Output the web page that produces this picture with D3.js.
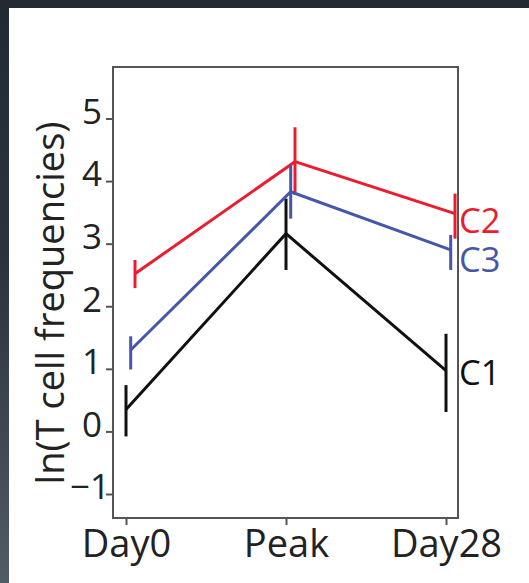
<!DOCTYPE html>
<html>
<head>
<meta charset="utf-8">
<script src="https://cdn.jsdelivr.net/npm/d3@7"></script>
<style>
  html, body { margin: 0; padding: 0; background: #fff; }
  svg { display: block; }
  text { font-family: "Open Sans", "DejaVu Sans", sans-serif; fill: #222; }
</style>
</head>
<body>
<svg id="chart" width="529" height="583"></svg>
<script>
// ---------------- data ----------------
const categories = ["Day0", "Peak", "Day28"];
const seriesNames = ["C1", "C2", "C3"];

const c1Mean  = [0.35, 3.16, 0.97];
const c1Upper = [0.74, 3.72, 1.56];
const c1Lower = [-0.08, 2.58, 0.31];

const c2Mean  = [2.52, 4.31, 3.48];
const c2Upper = [2.74, 4.86, 3.80];
const c2Lower = [2.29, 3.78, 3.08];

const c3Mean  = [1.30, 3.83, 2.90];
const c3Upper = [1.52, 4.26, 3.14];
const c3Lower = [0.99, 3.40, 2.58];

const yTicks = [-1, 0, 1, 2, 3, 4, 5];
const yTickLabels = ["\u22121", "0", "1", "2", "3", "4", "5"];
const yTitle = "ln(T cell frequencies)";

// ---------------- layout / style ----------------
const W = 529, H = 583;
const frame = { left: 113, right: 458, top: 67, bottom: 518 };
const colors = { C1: "#111111", C2: "#ec1c2e", C3: "#4557a8" };
const dodge = { C1: 0, C2: 9, C3: 4.7 };
const labelDy = { C1: 14, C2: 19, C3: 22 };

const series = [
  { name: "C1", mean: c1Mean, upper: c1Upper, lower: c1Lower },
  { name: "C2", mean: c2Mean, upper: c2Upper, lower: c2Lower },
  { name: "C3", mean: c3Mean, upper: c3Upper, lower: c3Lower }
];

const svg = d3.select("#chart");

// dark border strips of the screenshot
const defs = svg.append("defs");
const grad = defs.append("linearGradient").attr("id", "leftStrip")
  .attr("x1", 0).attr("y1", 0).attr("x2", 0).attr("y2", 1);
grad.append("stop").attr("offset", "0%").attr("stop-color", "#232a33");
grad.append("stop").attr("offset", "45%").attr("stop-color", "#2b333c");
grad.append("stop").attr("offset", "100%").attr("stop-color", "#515b66");
svg.append("rect").attr("x", 0).attr("y", 0).attr("width", 9).attr("height", H).attr("fill", "url(#leftStrip)");
svg.append("rect").attr("x", 0).attr("y", 0).attr("width", W).attr("height", 8).attr("fill", "#232a33");

// scales
const x = d3.scalePoint().domain(categories).range([126, 446]);
const y = d3.scaleLinear().domain([-1, 5]).range([494, 118.5]);

// frame
svg.append("rect")
  .attr("x", frame.left).attr("y", frame.top)
  .attr("width", frame.right - frame.left).attr("height", frame.bottom - frame.top)
  .attr("fill", "none").attr("stroke", "#555").attr("stroke-width", 2);

// y axis
const yAxis = svg.append("g").attr("transform", `translate(${frame.left},0)`)
  .call(d3.axisLeft(y).tickValues(yTicks).tickSize(7).tickPadding(4)
    .tickFormat((d, i) => yTickLabels[i]));
yAxis.select(".domain").remove();
yAxis.selectAll(".tick line").attr("stroke", "#555").attr("stroke-width", 2);
yAxis.selectAll(".tick text")
  .attr("font-size", 35).attr("dy", "0.14em")
  .attr("font-family", null).attr("fill", "#222")
  .attr("x", function(d, i) { return yTickLabels[i].startsWith("\u2212") ? -3 : -11; });

// x axis
const xAxis = svg.append("g").attr("transform", `translate(0,${frame.bottom})`)
  .call(d3.axisBottom(x).tickSize(7));
xAxis.select(".domain").remove();
xAxis.selectAll(".tick line").attr("stroke", "#555").attr("stroke-width", 2);
xAxis.selectAll(".tick text")
  .attr("font-size", 38).attr("y", 38.5).attr("dy", 0)
  .attr("font-family", null).attr("fill", "#222");

// y title, sized to span the measured length
const title = svg.append("text")
  .attr("transform", "translate(48.5,303) rotate(-90)")
  .attr("text-anchor", "middle").attr("dominant-baseline", "central")
  .attr("font-size", 32).text(yTitle);
const len = title.node().getComputedTextLength();
title.attr("font-size", 32 * 363 / len);

// lines + error bars
const px = (s, i) => x(categories[i]) + dodge[s.name];
const line = d3.line().x(d => d[0]).y(d => d[1]);

const g = svg.append("g");
series.forEach(s => {
  const pts = s.mean.map((v, i) => [px(s, i), y(v)]);
  g.append("path").attr("d", line(pts))
    .attr("fill", "none").attr("stroke", colors[s.name]).attr("stroke-width", 3)
    .attr("stroke-linejoin", "miter");
  g.selectAll(null).data(s.mean).enter().append("line")
    .attr("x1", (d, i) => px(s, i)).attr("x2", (d, i) => px(s, i))
    .attr("y1", (d, i) => y(s.upper[i])).attr("y2", (d, i) => y(s.lower[i]))
    .attr("stroke", colors[s.name]).attr("stroke-width", 3);
  // series label at right of frame
  svg.append("text")
    .attr("x", frame.right + 1)
    .attr("y", y(s.mean[s.mean.length - 1]) + labelDy[s.name])
    .attr("font-size", 34.5)
    .style("fill", colors[s.name] === "#111111" ? "#111" : colors[s.name])
    .text(s.name);
});
</script>
</body>
</html>
